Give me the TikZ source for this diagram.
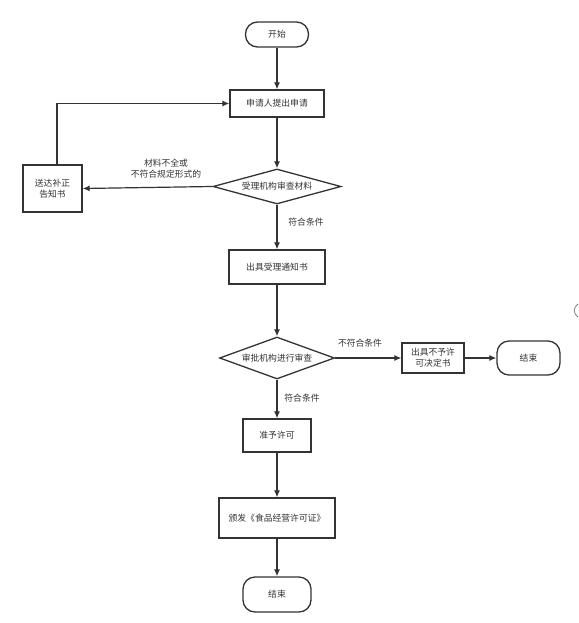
\documentclass[tikz,border=0pt]{standalone}
\usepackage{fontspec}
\usepackage{tikz}
\usetikzlibrary{arrows.meta,shapes.geometric}
\newfontfamily\cjk{Noto Sans CJK SC}
\definecolor{flowgray}{HTML}{333333}

\begin{document}
\begin{tikzpicture}[x=1pt, y=-1pt,
    every node/.style={font=\cjk\fontsize{8.8pt}{11pt}\selectfont, text=flowgray},
    procbox/.style={draw=flowgray, line width=1.3pt, align=center, inner sep=0pt},
    termbox/.style={procbox, rounded corners=12pt},
    decision/.style={draw=flowgray, line width=1.3pt, diamond, inner sep=0pt},
    flow/.style={line width=1.2pt, draw=flowgray, -{Latex[length=7pt,width=6pt]}}]
    \useasboundingbox (0,0) rectangle (578,623);

    \node[termbox, minimum width=63pt, minimum height=25pt] (start) at (277,34.5) {开始};
    \node[procbox, minimum width=94pt, minimum height=27pt] (apply) at (277,103.5) {申请人提出申请};
    \node[decision, aspect=3.6, minimum width=128pt, minimum height=35pt] (check) at (277,186.5) {受理机构审查材料};
    \node[procbox, minimum width=59pt, minimum height=47pt] (notice) at (52.5,188.5) {送达补正\\告知书};
    \node[procbox, minimum width=96pt, minimum height=34pt] (accept) at (277,267) {出具受理通知书};
    \node[decision, aspect=2.7, minimum width=115pt, minimum height=42pt] (review) at (277,358) {审批机构进行审查};
    \node[procbox, minimum width=62pt, minimum height=30pt] (refuse) at (433,358) {出具不予许\\可决定书};
    \node[termbox, minimum width=63pt, minimum height=34pt] (endA) at (528.5,358) {结束};
    \node[procbox, minimum width=68pt, minimum height=33pt] (grant) at (277,435.5) {准予许可};
    \node[procbox, minimum width=116pt, minimum height=40pt] (issue) at (277,518) {颁发《食品经营许可证》};
    \node[termbox, minimum width=68pt, minimum height=35pt] (endB) at (277,594.5) {结束};

    \node[align=center] (lblMissing) at (166,168.5) {材料不全或\\不符合规定形式的};
    \node (lblPassA) at (306,222) {符合条件};
    \node (lblFail) at (360,343) {不符合条件};
    \node (lblPassB) at (302,398) {符合条件};

    \draw[flow] (start) -- (apply);
    \draw[flow] (apply) -- (check);
    \draw[flow] (check.west) -- (notice.east);
    \draw[flow] ([xshift=4.5pt]notice.north) |- (apply.west);
    \draw[flow] (check) -- (accept);
    \draw[flow] (accept) -- (review);
    \draw[flow] (review.east) -- (refuse.west);
    \draw[flow] (refuse) -- (endA);
    \draw[flow] (review) -- (grant);
    \draw[flow] (grant) -- (issue);
    \draw[flow] (issue) -- (endB);

    \draw[gray, line width=0.8pt] (578,304) .. controls (573,307) and (573,314) .. (578,317);
\end{tikzpicture}
\end{document}
